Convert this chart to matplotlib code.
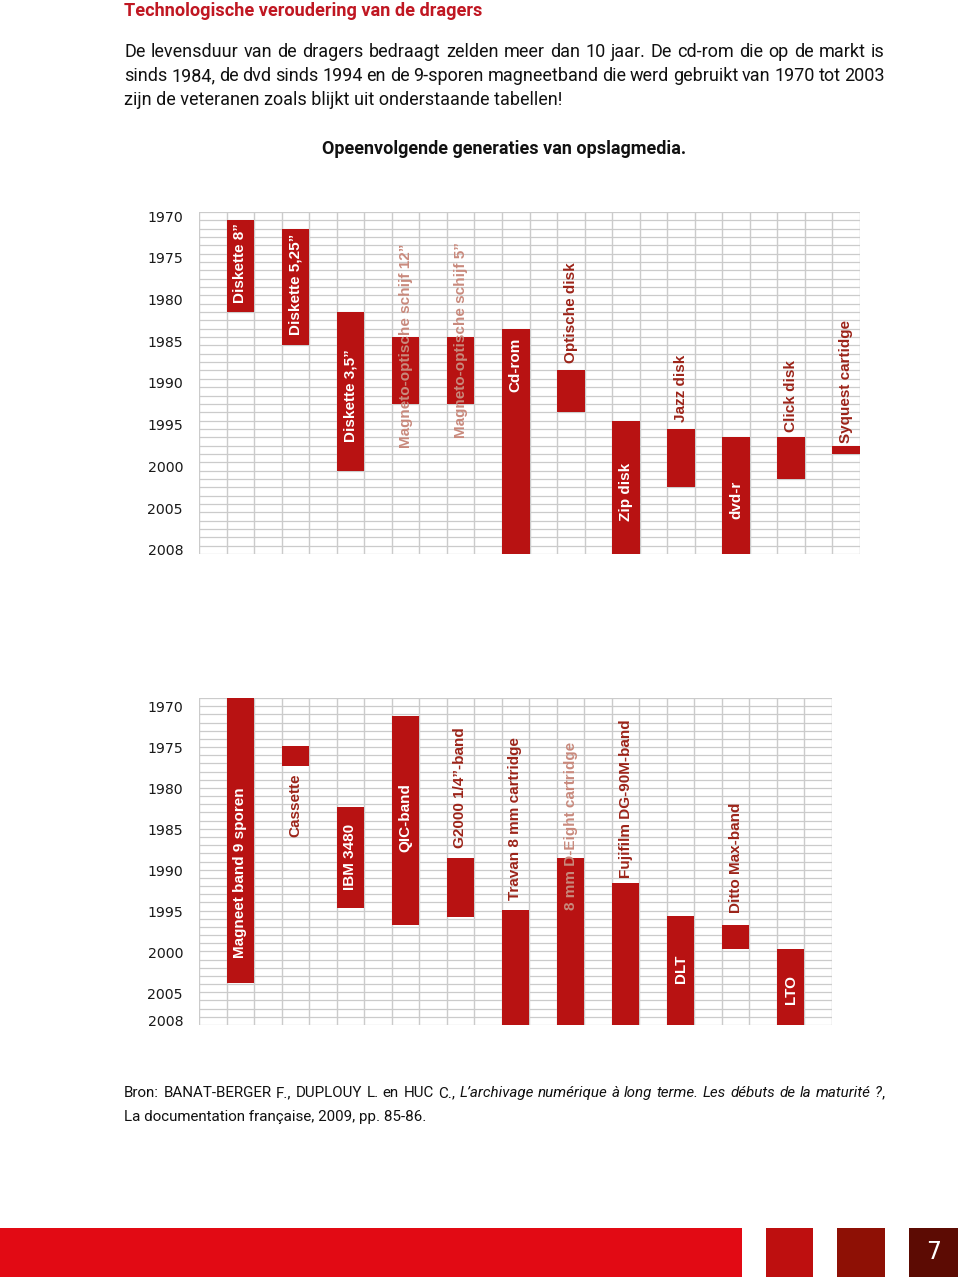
import matplotlib
matplotlib.use('Agg')
import matplotlib.pyplot as plt
from matplotlib.patches import Rectangle
import numpy as np

W, H, DPI = 960, 1278, 100

# ---------------- data ----------------
media_top = ['Diskette 8”', 'Diskette 5,25”', 'Diskette 3,5”',
             'Magneto-optische schijf 12”', 'Magneto-optische schijf 5”',
             'Cd-rom', 'Optische disk', 'Zip disk', 'Jazz disk', 'dvd-r',
             'Click disk', 'Syquest cartidge']
start_top = [1971, 1972, 1982, 1985, 1985, 1984, 1989, 1995, 1996, 1997, 1997, 1998]
end_top = [1981, 1985, 2000, 1992, 1992, 2010, 1993, 2010, 2002, 2010, 2001, 1998]
ticks_top = [1970, 1975, 1980, 1985, 1990, 1995, 2000, 2005, 2010]
ticklabels_top = ['1970', '1975', '1980', '1985', '1990', '1995', '2000', '2005', '2008']

media_bot = ['Magneet band 9 sporen', 'Cassette', 'IBM 3480', 'QIC-band',
             'G2000 1/4”-band', 'Travan 8 mm cartridge', '8 mm D-Eight cartridge',
             'Fujifilm DG-90M-band', 'DLT', 'Ditto Max-band', 'LTO']
start_bot = [1969.0, 1974.9, 1982.3, 1971.2, 1988.5, 1994.8, 1988.5, 1991.5, 1995.5, 1996.6, 1999.6]
end_bot = [2003.7, 1977.3, 1994.5, 1996.6, 1995.6, 2008.8, 2008.8, 2008.8, 2008.8, 1999.6, 2008.8]
ticks_bot = [1970, 1975, 1980, 1985, 1990, 1995, 2000, 2005, 2008.3]
ticklabels_bot = ['1970', '1975', '1980', '1985', '1990', '1995', '2000', '2005', '2008']

# ---------------- layout / style ----------------
label_anchor_top = [1980.4, 1984.2, 1997.1, 1997.8, 1996.6, 1991.1, 1987.6, 2006.5,
                    1994.7, 2006.3, 1995.9, 1997.2]
label_style_top = ['w', 'w', 'w', 't', 't', 'w', 'd', 'w', 'd', 'w', 'd', 'd']
label_anchor_bot = [2000.6, 1985.9, 1992.4, 1987.7, 1987.3, 1993.6, 1994.8, 1990.9,
                    2003.7, 1995.2, 2006.3]
label_style_bot = ['w', 'd', 'w', 'w', 'd', 'd', 't', 'd', 'w', 'd', 'w']

BAR = '#B81212'
COLS = {'w': 'white', 'd': '#9C2419', 't': '#C98A7D'}
GRID = '#CBCBCB'
LABEL_FONT = ['Liberation Sans', 'DejaVu Sans']
TICK_FONT = ['DejaVu Sans']
BODY_FONT = ['Roboto', 'DejaVu Sans']

fig = plt.figure(figsize=(W / DPI, H / DPI), dpi=DPI)
fig.patch.set_facecolor('white')


def fx(x):
    return x / W


def fy(y):
    return 1 - y / H


def make_chart(rect_px, ncols, ylim, hlines, names, starts, ends, ticks, ticklabels,
               anchors, styles, row_centered):
    x0, y0, x1, y1 = rect_px
    ax = fig.add_axes([fx(x0), fy(y1), (x1 - x0) / W, (y1 - y0) / H])
    ax.set_xlim(0, ncols)
    ax.set_ylim(*ylim)
    for s in ax.spines.values():
        s.set_visible(False)
    for v in range(ncols + 1):
        ax.axvline(v, color=GRID, lw=1.0, zorder=1)
    for h in hlines:
        ax.axhline(h, color=GRID, lw=0.9, zorder=1)
    xs = np.arange(len(names)) * 2 + 1.5
    if row_centered:
        bottoms = np.array(starts) - 0.5
        heights = np.array(ends) - np.array(starts) + 1
    else:
        bottoms = np.array(starts)
        heights = np.array(ends) - np.array(starts)
    ax.bar(xs, heights, bottom=bottoms, width=1.0, color=BAR, zorder=2, linewidth=0)
    for x, name, a, st in zip(xs, names, anchors, styles):
        ax.text(x, a, name, rotation=90, rotation_mode='anchor', ha='left', va='center',
                color=COLS[st], fontsize=11, fontweight='bold', family=LABEL_FONT, zorder=3)
    ax.set_xticks([])
    ax.set_yticks(ticks)
    ax.set_yticklabels(ticklabels, family=TICK_FONT, fontsize=10.2, color='#1a1a1a')
    ax.tick_params(axis='y', length=0, pad=11.5)
    return ax


make_chart((199, 212, 860, 554), 24, (2010.5, 1969.5), np.arange(1969.5, 2011, 1.0),
           media_top, start_top, end_top, ticks_top, ticklabels_top,
           label_anchor_top, label_style_top, True)

make_chart((199, 698, 832, 1025), 23, (2008.8, 1969.0), np.linspace(1969.0, 2008.8, 41),
           media_bot, start_bot, end_bot, ticks_bot, ticklabels_bot,
           label_anchor_bot, label_style_bot, False)

renderer = fig.canvas.get_renderer()


def fitted_text(txt, x0, target_w, y, family, weight='normal', color='black', style='normal'):
    t = fig.text(fx(x0), fy(y), txt, fontsize=10, family=family, fontweight=weight,
                 color=color, style=style, va='center', ha='left')
    w = t.get_window_extent(renderer).width
    fs = 10 * target_w / w
    t.set_fontsize(fs)
    return fs


def tokens_fs(tokens, target_w, family):
    # font size at which the tokens, with normal spaces, span target_w
    total = 0.0
    for i, (txt, st, gap) in enumerate(tokens):
        t = fig.text(0, 0, txt, fontsize=10, family=family, style=st)
        total += t.get_window_extent(renderer).width
        t.remove()
        if i > 0 and gap:
            total += 0.25 * 10 * DPI / 72
    return 10 * target_w / total


def justified(tokens, x0, x1, y, fs, family, color='black'):
    # tokens: list of (text, style, gap_before)
    objs = []
    for txt, st, gap in tokens:
        t = fig.text(0, fy(y), txt, fontsize=fs, family=family, style=st, color=color,
                     va='center', ha='left')
        objs.append((t, t.get_window_extent(renderer).width, gap))
    total = sum(w for _, w, _ in objs)
    ngaps = sum(1 for _, _, g in objs[1:] if g)
    gap = (x1 - x0 - total) / max(ngaps, 1)
    x = x0
    for i, (t, w, g) in enumerate(objs):
        if i > 0 and g:
            x += gap
        t.set_x(fx(x))
        x += w


# Header
fitted_text('Technologische veroudering van de dragers', 124, 357, 10.5, BODY_FONT,
            weight='bold', color='#C01722')
line1 = 'De levensduur van de dragers bedraagt zelden meer dan 10 jaar. De cd-rom die op de markt is'
line2 = 'sinds 1984, de dvd sinds 1994 en de 9-sporen magneetband die werd gebruikt van 1970 tot 2003'
line3 = 'zijn de veteranen zoals blijkt uit onderstaande tabellen!'
tok1 = [(w, 'normal', True) for w in line1.split()]
tok2 = [(w, 'normal', True) for w in line2.split()]
fs_body = tokens_fs(tok1, 748, BODY_FONT)
justified(tok1, 124, 885, 52, fs_body, BODY_FONT, '#111111')
justified(tok2, 124, 885, 76, fs_body, BODY_FONT, '#111111')
fig.text(fx(124), fy(100), line3, fontsize=fs_body, family=BODY_FONT, color='#111111',
         va='center', ha='left')
fitted_text('Opeenvolgende generaties van opslagmedia.', 322, 366, 149, BODY_FONT,
            weight='bold', color='#111111')

# Footer source
src_plain = 'Bron: BANAT-BERGER F., DUPLOUY L. en HUC C.,'
src_ital = 'L’archivage numérique à long terme. Les débuts de la maturité ?'
src1 = [(w, 'normal', True) for w in src_plain.split()]
src1 += [(w, 'italic', True) for w in src_ital.split()]
src1 += [(',', 'normal', False)]
fs_src = tokens_fs(src1, 752, BODY_FONT)
justified(src1, 124, 885, 1093, fs_src, BODY_FONT, '#111111')
fig.text(fx(124), fy(1117), 'La documentation française, 2009, pp. 85-86.', fontsize=fs_src,
         family=BODY_FONT, color='#111111', va='center', ha='left')

# Page band
for (x0, x1, c) in [(0, 742, '#E20A14'), (766, 813, '#BE0F0F'), (837, 885, '#8E1005'),
                    (909, 958, '#5C0B03')]:
    fig.add_artist(Rectangle((fx(x0), fy(1277)), (x1 - x0) / W, 49 / H,
                             transform=fig.transFigure, facecolor=c, edgecolor='none'))
fig.text(fx(933.5), fy(1252), '7', color='white', fontsize=17, family=TICK_FONT,
         ha='center', va='center')

fig.savefig('out.png', dpi=DPI, facecolor='white')
